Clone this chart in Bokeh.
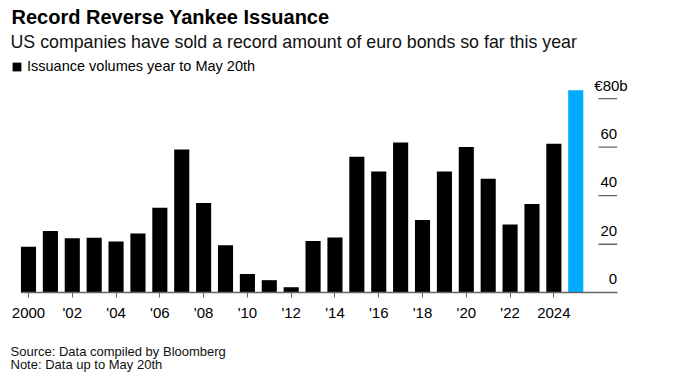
from bokeh.plotting import figure
from bokeh.models import Range1d, FixedTicker, Label, Legend, LegendItem, ColumnDataSource
from bokeh.core.properties import value
from bokeh.embed import file_html
from bokeh.resources import INLINE

# ---- data ----
years = list(range(2000, 2025))
volumes = [19, 25.5, 22.5, 22.7, 21.1, 24.4, 35, 59, 37, 19.6, 7.7, 5.2, 2.3,
           21.3, 22.8, 56, 50, 61.9, 30, 50, 60, 47, 28.1, 36.6, 61.4]
current_year = [2025]
current_volume = [83.4]

x_ticks = list(range(2000, 2025, 2))
x_tick_labels = ["2000", "'02", "'04", "'06", "'08", "'10", "'12", "'14", "'16",
                 "'18", "'20", "'22", "2024"]
y_ticks = [0, 20, 40, 60, 80]
y_tick_labels = ["0", "20", "40", "60", "80"]

title = "Record Reverse Yankee Issuance"
subtitle = "US companies have sold a record amount of euro bonds so far this year"
legend_label = "Issuance volumes year to May 20th"
source_text = "Source: Data compiled by Bloomberg"
note_text = "Note: Data up to May 20th"

FONT = "Liberation Sans"
W, H = 691, 377
PX_PER_YEAR = 21.89
PX_PER_UNIT = 2.428
BASE_Y = 292.3          # canvas row of the zero line
x0 = 2000 - 28 / PX_PER_YEAR
y0 = -(H - BASE_Y) / PX_PER_UNIT
SHIFT = 5  # empirical baseline correction

def px2year(px):
    return x0 + px / PX_PER_YEAR

p = figure(width=W, height=H, output_backend="svg", toolbar_location=None,
           x_range=Range1d(x0, x0 + W / PX_PER_YEAR),
           y_range=Range1d(y0, y0 + H / PX_PER_UNIT),
           min_border_left=0, min_border_right=0, min_border_top=0,
           min_border_bottom=0)
p.outline_line_color = None
p.grid.visible = False
p.yaxis.visible = False
p.background_fill_color = "white"
p.border_fill_color = "white"

src = ColumnDataSource(dict(x=years, top=volumes))
r_black = p.vbar(x="x", top="top", width=0.69, source=src, fill_color="#000000", line_color=None)
p.vbar(x=current_year, top=current_volume, width=0.69, fill_color="#00AAFF", line_color=None)

# x axis drawn at the zero line
ax = p.xaxis[0]
ax.fixed_location = 0
ax.ticker = FixedTicker(ticks=x_ticks)
ax.major_label_overrides = {t: l for t, l in zip(x_ticks, x_tick_labels)}
ax.minor_tick_line_color = None
ax.major_tick_in = 0
ax.major_tick_out = 5
ax.axis_line_color = "#666666"
ax.axis_line_width = 1.3
ax.major_tick_line_color = "#666666"
ax.major_label_text_font = FONT
ax.major_label_text_font_size = "15px"
ax.major_label_text_color = "#000000"
ax.major_label_standoff = 6
ax.bounds = (px2year(20.7), px2year(616.5))

# right-side value labels with short rules
gx0, gx1 = px2year(598), px2year(616.7)
p.segment(x0=[gx0] * 4, y0=y_ticks[1:], x1=[gx1] * 4, y1=y_ticks[1:],
          line_color="#666666", line_width=1.3)
p.text(x=[gx1] * 4, y=y_ticks[:4], text=y_tick_labels[:4], text_align="right",
       text_baseline="alphabetic", y_offset=-8.5 - SHIFT, text_font=value(FONT),
       text_font_size="15px", text_color="#000000")
p.text(x=[gx1], y=[y_ticks[4]], text=["€" + y_tick_labels[4] + "b"], text_align="right",
       text_baseline="alphabetic", x_offset=10.5, y_offset=-8.5 - SHIFT, text_font=value(FONT),
       text_font_size="15px", text_color="#000000")

# titles and footer
def add_label(txt, x, y_canvas, size, style="normal", color="#000000"):
    p.add_layout(Label(x=x, y=H - y_canvas + SHIFT, x_units="screen", y_units="screen",
                       text=txt, text_font=FONT, text_font_size=size,
                       text_font_style=style, text_color=color,
                       text_baseline="alphabetic"))

add_label(title, 11, 21.7, "20px", "bold")
add_label(subtitle, 10, 46.7, "17.8px", color="#111111")
add_label(source_text, 10, 356, "13px", color="#111111")
add_label(note_text, 10, 369, "13px", color="#111111")

legend = Legend(items=[LegendItem(label=legend_label, renderers=[r_black])],
                location=(11, H - 74), orientation="horizontal",
                glyph_width=11, glyph_height=11, label_standoff=5,
                label_text_font=FONT, label_text_font_size="14.5px",
                label_text_color="#000000",
                padding=0, margin=0, border_line_color=None,
                background_fill_alpha=0)
p.add_layout(legend)

open("out.html", "w").write(file_html(p, INLINE))
